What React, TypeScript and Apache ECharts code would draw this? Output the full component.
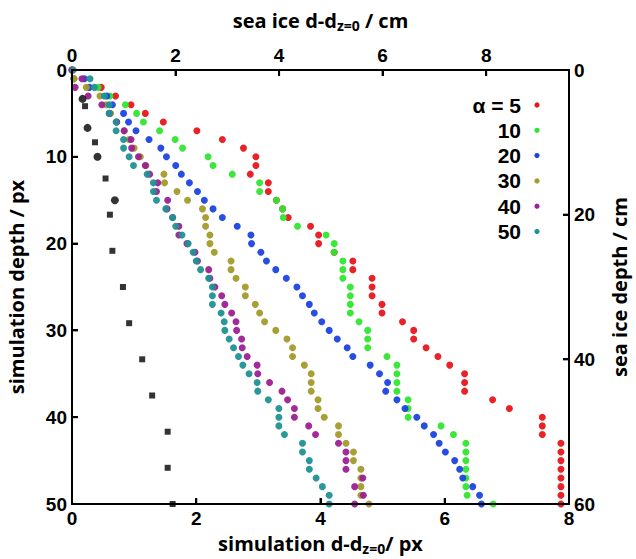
import React, { useEffect, useRef } from "react";
import * as echarts from "echarts";

// depth index (simulation px) 0..50 for every colored series
const depths: number[] = Array.from({ length: 51 }, (_, i) => i);

const alphaLabels = ["α = 5", "10", "20", "30", "40", "50"];
const colors = ["#e8161b", "#2fe62f", "#1b43e0", "#a39a2a", "#9e1f94", "#1f9294"];

const red = [0, 0.03, 0.47, 0.7, 0.95, 1.18, 1.47, 2.01, 2.42, 2.76, 2.96, 2.96, 2.87, 3.16, 3.16, 3.29, 3.39, 3.48, 3.84, 3.97, 3.97, 4.22, 4.52, 4.52, 4.83, 4.83, 4.83, 4.99, 4.99, 5.32, 5.5, 5.5, 5.7, 5.89, 6.08, 6.32, 6.32, 6.32, 6.77, 7.04, 7.57, 7.57, 7.57, 7.87, 7.87, 7.87, 7.87, 7.87, 7.87, 7.87, 7.87];
const green = [0, 0.03, 0.42, 0.61, 0.86, 1.04, 1.15, 1.41, 1.66, 1.78, 2.19, 2.27, 2.58, 3.02, 3.02, 3.29, 3.39, 3.4, 3.63, 4.09, 4.22, 4.22, 4.36, 4.36, 4.36, 4.48, 4.48, 4.48, 4.48, 4.62, 4.76, 4.76, 4.76, 5.07, 5.23, 5.23, 5.23, 5.23, 5.41, 5.41, 5.41, 5.94, 6.14, 6.34, 6.34, 6.34, 6.34, 6.34, 6.34, 6.36, 6.78];
const blue = [0, 0.2, 0.28, 0.56, 0.65, 0.83, 0.91, 1.03, 1.24, 1.43, 1.52, 1.67, 1.76, 1.89, 2.02, 2.13, 2.27, 2.42, 2.66, 2.88, 2.89, 3.04, 3.13, 3.28, 3.45, 3.62, 3.71, 3.82, 3.9, 4.02, 4.14, 4.27, 4.43, 4.52, 4.8, 4.95, 5.08, 5.05, 5.23, 5.36, 5.55, 5.67, 5.82, 5.91, 6.01, 6.16, 6.24, 6.29, 6.45, 6.56, 6.59];
const olive = [0, 0.03, 0.23, 0.45, 0.55, 0.62, 0.72, 0.84, 0.92, 1.0, 1.1, 1.19, 1.48, 1.49, 1.69, 1.86, 2.1, 2.15, 2.15, 2.22, 2.22, 2.29, 2.56, 2.56, 2.64, 2.79, 2.79, 2.95, 3.02, 3.1, 3.28, 3.46, 3.55, 3.55, 3.74, 3.85, 3.85, 3.85, 3.96, 3.96, 4.06, 4.29, 4.29, 4.41, 4.53, 4.53, 4.65, 4.65, 4.65, 4.65, 4.78];
const magenta = [0, 0.16, 0.05, 0.26, 0.48, 0.6, 0.72, 0.84, 0.95, 0.96, 1.07, 1.18, 1.25, 1.38, 1.36, 1.54, 1.53, 1.62, 1.72, 1.72, 1.85, 1.98, 2.02, 2.2, 2.22, 2.3, 2.41, 2.46, 2.57, 2.64, 2.65, 2.73, 2.74, 2.82, 2.98, 2.99, 3.18, 3.38, 3.47, 3.58, 3.58, 3.81, 3.92, 4.29, 4.41, 4.41, 4.41, 4.68, 4.55, 4.69, 4.55];
const teal = [0.02, 0.29, 0.36, 0.52, 0.6, 0.6, 0.71, 0.71, 0.83, 0.83, 0.92, 0.99, 1.21, 1.31, 1.31, 1.36, 1.51, 1.62, 1.67, 1.77, 1.87, 1.95, 2.0, 2.07, 2.2, 2.26, 2.26, 2.26, 2.4, 2.45, 2.46, 2.53, 2.6, 2.68, 2.75, 2.85, 2.98, 2.99, 3.16, 3.33, 3.33, 3.33, 3.42, 3.71, 3.71, 3.82, 3.82, 3.93, 4.03, 4.14, 4.14];

// black reference points (displacement px, depth px)
const circleX = [0.17, 0.25, 0.41, 0.69];
const circleDepth = [3.33, 6.67, 10, 15];
const squareX = [0.21, 0.37, 0.54, 0.61, 0.65, 0.82, 0.92, 1.13, 1.29, 1.54, 1.54, 1.62];
const squareDepth = [4.17, 8.33, 12.5, 16.67, 20.83, 25, 29.17, 33.33, 37.5, 41.67, 45.83, 50];

// tick values (inner ticks drawn on the frame)
const bottomTicks = [2, 4, 6];
const topTicks = [0, 2, 4, 6, 8];
const leftTicks = [10, 20, 30, 40];
const rightTicks = [20, 40];

const W = 636;
const H = 559;
const G = { left: 72, right: 67, top: 70, bottom: 55 };
const X_MAX = 8;
const XTOP_MAX = 9.6;
const Y_MAX = 50;
const YR_MAX = 60;

const x0 = G.left;
const x1 = W - G.right;
const y0 = G.top;
const y1 = H - G.bottom;
const sx = (v: number, max: number) => x0 + (v / max) * (x1 - x0);
const sy = (v: number, max: number) => y0 + (v / max) * (y1 - y0);
const LW = 2;
const TL = 6;

type Box = { x: number; y: number; w: number; h: number };
const frameBoxes: Box[] = [
  { x: x0 - LW / 2, y: y0 - LW / 2, w: x1 - x0 + LW, h: LW },
  { x: x0 - LW / 2, y: y1 - LW / 2, w: x1 - x0 + LW, h: LW },
  { x: x0 - LW / 2, y: y0 - LW / 2, w: LW, h: y1 - y0 + LW },
  { x: x1 - LW / 2, y: y0 - LW / 2, w: LW, h: y1 - y0 + LW },
];
const tickBoxes: Box[] = [
  ...bottomTicks.map((v) => ({ x: sx(v, X_MAX) - LW / 2, y: y1 - TL, w: LW, h: TL })),
  ...topTicks.filter((v) => v > 0).map((v) => ({ x: sx(v, XTOP_MAX) - LW / 2, y: y0, w: LW, h: TL })),
  ...leftTicks.map((v) => ({ x: x0, y: sy(v, Y_MAX) - LW / 2, w: TL, h: LW })),
  ...rightTicks.map((v) => ({ x: x1 - TL, y: sy(v, YR_MAX) - LW / 2, w: TL, h: LW })),
];

export default function App() {
  const ref = useRef<HTMLDivElement>(null);
  useEffect(() => {
    if (!ref.current) return;
    const chart = echarts.init(ref.current, undefined, { renderer: "svg" });
    const seriesVals = [red, green, blue, olive, magenta, teal];
    const labelFont = () => ({ color: "#000", fontWeight: "bold" as const, fontSize: 19, fontFamily: "Liberation Sans, Arial, sans-serif", margin: 5 });
    const nameRich = {
      a: { fontSize: 20, fontWeight: "bold" as const, fontFamily: "Open Sans, sans-serif", color: "#000" },
      s: { fontSize: 14, fontWeight: "bold" as const, fontFamily: "Open Sans, sans-serif", color: "#000", padding: [10, 0, 0, 0] },
    };
    const axisLine = () => ({ show: true, onZero: false, lineStyle: { color: "#000000", width: 2 } });
    const axisTick = () => ({ show: false });
    const legendTop = 105;
    const legendStep = 25.3;
    const legendGraphics = [
      ...alphaLabels.map((t, k) => ({
        type: "text",
        x: 521, y: legendTop + k * legendStep,
        style: {
          text: t, align: "right", verticalAlign: "middle",
          fontSize: 21, fontWeight: "bold", fontFamily: "Liberation Sans, Arial, sans-serif", fill: "#000",
        },
      })),
      ...colors.map((c, k) => ({
        type: "circle",
        shape: { cx: 537, cy: legendTop + k * legendStep, r: 2.6 },
        style: { fill: c },
      })),
    ];
    const rects = [...frameBoxes, ...tickBoxes].map((b) => ({
      type: "rect", shape: { x: b.x, y: b.y, width: b.w, height: b.h }, style: { fill: "#000" }, z: 10,
    }));
    chart.setOption({
      animation: false,
      backgroundColor: "#fff",
      grid: { ...G, containLabel: false, outerBoundsMode: "none" },
      xAxis: [
        {
          type: "value", position: "bottom", min: 0, max: X_MAX, interval: 2,
          axisLine: axisLine(), axisTick: axisTick(), splitLine: { show: false },
          axisLabel: labelFont(),
          name: "{a|simulation d-d}{s|z=0}{a|/ px}",
          nameLocation: "middle", nameGap: 27, nameTextStyle: { rich: nameRich },
        },
        {
          type: "value", position: "top", min: 0, max: XTOP_MAX, interval: 2,
          axisLine: axisLine(), axisTick: axisTick(), splitLine: { show: false },
          axisLabel: { ...labelFont(), customValues: topTicks },
          name: "{a|sea ice d-d}{s|z=0}{a| / cm}",
          nameLocation: "middle", nameGap: 38, nameTextStyle: { rich: nameRich },
        },
      ],
      yAxis: [
        {
          type: "value", position: "left", inverse: true, min: 0, max: Y_MAX, interval: 10,
          axisLine: axisLine(), axisTick: axisTick(), splitLine: { show: false },
          axisLabel: labelFont(),
          name: "simulation depth / px", nameLocation: "middle", nameRotate: 90, nameGap: 46,
          nameTextStyle: nameRich.a,
        },
        {
          type: "value", position: "right", inverse: true, min: 0, max: YR_MAX, interval: 20,
          axisLine: axisLine(), axisTick: axisTick(), splitLine: { show: false },
          axisLabel: labelFont(),
          name: "sea ice depth / cm", nameLocation: "middle", nameRotate: 90, nameGap: 40,
          nameTextStyle: nameRich.a,
        },
      ],
      series: [
        ...seriesVals.map((vals, k) => ({
          name: alphaLabels[k],
          type: "scatter",
          xAxisIndex: 0, yAxisIndex: 0,
          symbol: "circle", symbolSize: 7,
          itemStyle: { color: colors[k], opacity: 0.95 },
          data: vals.map((v, i) => [v, depths[i]]),
        })),
        {
          name: "circles", type: "scatter", xAxisIndex: 0, yAxisIndex: 0,
          symbol: "circle", symbolSize: 8, itemStyle: { color: "#000" },
          data: circleX.map((v, i) => [v, circleDepth[i]]),
        },
        {
          name: "squares", type: "scatter", xAxisIndex: 0, yAxisIndex: 0,
          symbol: "rect", symbolSize: 6, itemStyle: { color: "#000" },
          data: squareX.map((v, i) => [v, squareDepth[i]]),
        },
      ],
      graphic: [...legendGraphics, ...rects],
    });

    return () => chart.dispose();
  }, []);
  return (
    <div style={{ position: "fixed", left: 0, top: 0, width: W, height: H, background: "#fff" }}>
      <div ref={ref} style={{ position: "absolute", left: 0, top: 0, width: W, height: H }} />
      <div style={{ position: "absolute", left: 0, top: 0, width: W, height: H, pointerEvents: "none", zIndex: 5 }}>
        {[...frameBoxes, ...tickBoxes].map((b, i) => (
          <div key={i} style={{ position: "absolute", left: b.x, top: b.y, width: b.w, height: b.h, background: "#000" }} />
        ))}
      </div>
    </div>
  );
}
